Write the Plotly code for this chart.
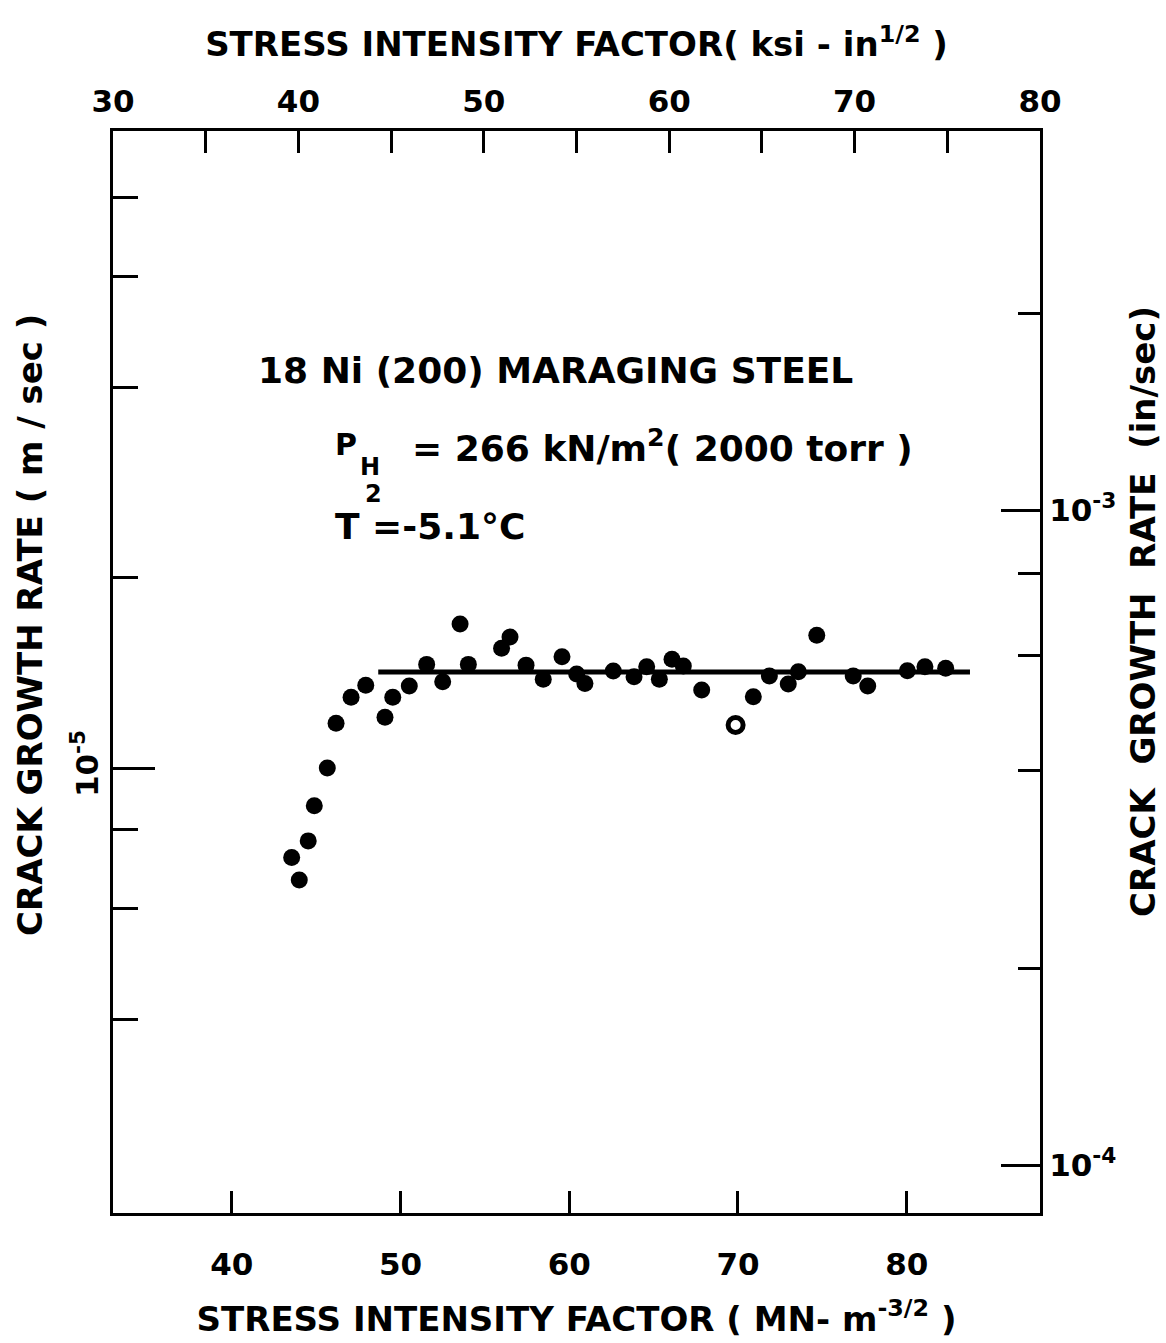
import plotly.graph_objects as go

# ---- data ----
K_mn = [43.55, 44.00, 44.53, 44.89, 45.66, 46.18, 47.07, 47.94, 49.08, 49.54,
        50.52, 51.55, 52.50, 53.53, 54.02, 55.99, 56.49, 57.44, 58.46, 59.57,
        60.44, 60.93, 62.61, 63.84, 64.59, 65.34, 66.09, 66.76, 67.85,
        70.91, 71.86, 72.98, 73.58, 74.67, 76.83, 77.69, 80.04, 81.08, 82.31]
rate = [7.22e-6, 6.65e-6, 7.67e-6, 8.72e-6, 1.00e-5, 1.177e-5, 1.294e-5, 1.352e-5, 1.203e-5, 1.294e-5,
        1.348e-5, 1.459e-5, 1.370e-5, 1.690e-5, 1.459e-5, 1.547e-5, 1.612e-5, 1.455e-5, 1.382e-5, 1.500e-5,
        1.409e-5, 1.361e-5, 1.424e-5, 1.395e-5, 1.446e-5, 1.382e-5, 1.486e-5, 1.451e-5, 1.329e-5,
        1.297e-5, 1.398e-5, 1.358e-5, 1.420e-5, 1.623e-5, 1.398e-5, 1.348e-5, 1.426e-5, 1.446e-5, 1.438e-5]
open_K = [69.86]
open_rate = [1.170e-5]
plateau_K = [48.68, 83.75]
plateau_rate = [1.419e-5, 1.419e-5]

bottom_ticks = [40, 50, 60, 70, 80]
top_ticks = [30, 40, 50, 60, 70, 80]
top_minor = [35, 45, 55, 65, 75]
left_major = [1e-5]
left_major_text = ["10<sup>-5</sup>"]
left_minor = [4e-6, 6e-6, 8e-6, 2e-5, 4e-5, 6e-5, 8e-5]
right_major = [1e-4, 1e-3]
right_major_text = ["10<sup>-4</sup>", "10<sup>-3</sup>"]
right_minor = [2e-4, 4e-4, 6e-4, 8e-4, 2e-3]

FONT = "DejaVu Sans"
fig = go.Figure()

fig.add_trace(go.Scatter(x=plateau_K, y=plateau_rate, mode="lines",
                         line=dict(color="black", width=5), showlegend=False, hoverinfo="skip"))
fig.add_trace(go.Scatter(x=K_mn, y=rate, mode="markers",
                         marker=dict(color="black", size=17, line=dict(width=0)), showlegend=False))
fig.add_trace(go.Scatter(x=open_K, y=open_rate, mode="markers",
                         marker=dict(color="white", size=15, line=dict(color="black", width=5)),
                         showlegend=False))
# attach secondary axes
fig.add_trace(go.Scatter(x=[30, 80], y=[1e-4, 1e-3], xaxis="x2", yaxis="y2", mode="markers",
                         marker=dict(opacity=0), showlegend=False, hoverinfo="skip"))

tickfont = dict(family=FONT, size=31, color="black", weight="bold")
titlefont = dict(family=FONT, size=34, color="black", weight="bold")

fig.update_layout(
    width=1166, height=1343,
    margin=dict(l=113, r=126, t=131, b=130),
    paper_bgcolor="white", plot_bgcolor="white",
    showlegend=False,
    xaxis=dict(range=[32.96, 87.9], tickvals=bottom_ticks, ticks="inside", ticklen=22,
               tickwidth=3, tickcolor="black", showline=True, linewidth=3, linecolor="black",
               showgrid=False, zeroline=False, tickfont=tickfont, ticklabelstandoff=22,
               title=dict(text="STRESS INTENSITY FACTOR ( MN- m<sup>-3/2</sup> )", font=titlefont, standoff=26)),
    xaxis2=dict(range=[30, 80], overlaying="x", side="top", anchor="y", tickvals=top_ticks,
                ticks="inside", ticklen=22, tickwidth=3, tickcolor="black",
                minor=dict(tickvals=top_minor, ticks="inside", ticklen=22, tickwidth=3, tickcolor="black"),
                showline=True, linewidth=3, linecolor="black", showgrid=False, zeroline=False,
                tickfont=tickfont, ticklabelstandoff=4,
                title=dict(text="STRESS INTENSITY FACTOR( ksi - in<sup>1/2</sup> )", font=titlefont, standoff=16)),
    yaxis=dict(type="log", range=[-5.704, -3.992], tickvals=left_major, ticktext=left_major_text,
               ticks="inside", ticklen=42, tickwidth=3, tickcolor="black", tickangle=-90,
               minor=dict(tickvals=left_minor, ticks="inside", ticklen=25, tickwidth=3, tickcolor="black"),
               showline=True, linewidth=3, linecolor="black", showgrid=False, zeroline=False,
               tickfont=tickfont),
    yaxis2=dict(type="log", range=[-4.073, -2.421], overlaying="y", side="right", anchor="x",
                tickvals=right_major, ticktext=right_major_text,
                ticks="inside", ticklen=39, tickwidth=3, tickcolor="black",
                minor=dict(tickvals=right_minor, ticks="inside", ticklen=22, tickwidth=3, tickcolor="black"),
                showline=True, linewidth=3, linecolor="black", showgrid=False, zeroline=False,
                tickfont=tickfont),
)

ann_font = dict(family=FONT, size=36, color="black", weight="bold")
p_font = dict(family=FONT, size=30, color="black", weight="bold")
sub_font = dict(family=FONT, size=24, color="black", weight="bold")


def px_x(px):
    return (px - 113) / 927


def px_y(py):
    return (1213 - py) / 1082


# side axis titles (rotated)
fig.add_annotation(xref="paper", yref="paper", x=px_x(30), y=px_y(625),
                   text="CRACK GROWTH RATE ( m / sec )", textangle=-90, showarrow=False,
                   xanchor="center", yanchor="middle", font=titlefont)
fig.add_annotation(xref="paper", yref="paper", x=px_x(1143), y=px_y(612),
                   text="CRACK  GROWTH  RATE  (in/sec)", textangle=-90, showarrow=False,
                   xanchor="center", yanchor="middle", font=titlefont)

fig.add_annotation(xref="paper", yref="paper", x=px_x(256), y=px_y(370),
                   text="18 Ni (200) MARAGING STEEL", showarrow=False,
                   xanchor="left", yanchor="middle", font=ann_font)
fig.add_annotation(xref="paper", yref="paper", x=px_x(333), y=px_y(444),
                   text="P", showarrow=False, xanchor="left", yanchor="middle", font=p_font)
fig.add_annotation(xref="paper", yref="paper", x=px_x(358), y=px_y(467),
                   text="H", showarrow=False, xanchor="left", yanchor="middle", font=sub_font)
fig.add_annotation(xref="paper", yref="paper", x=px_x(363), y=px_y(494),
                   text="2", showarrow=False, xanchor="left", yanchor="middle", font=sub_font)
fig.add_annotation(xref="paper", yref="paper", x=px_x(410), y=px_y(446),
                   text="= 266 kN/m<sup>2</sup>( 2000 torr )", showarrow=False,
                   xanchor="left", yanchor="middle", font=ann_font)
fig.add_annotation(xref="paper", yref="paper", x=px_x(333), y=px_y(526),
                   text="T =-5.1°C", showarrow=False,
                   xanchor="left", yanchor="middle", font=ann_font)

fig.write_html("out.html")
